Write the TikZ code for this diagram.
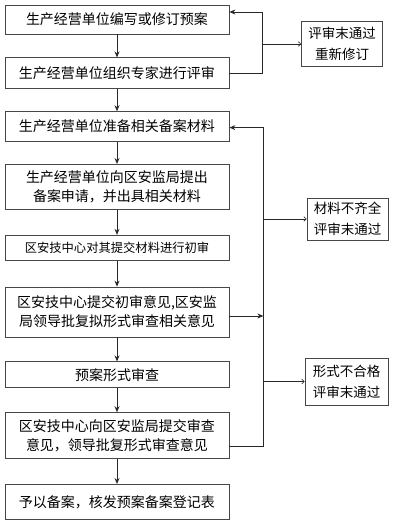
\documentclass[tikz,border=0pt]{standalone}
\usepackage{fontspec}
\setmainfont{Noto Sans CJK SC}
\usetikzlibrary{arrows.meta,positioning,calc}
\definecolor{boxgray}{RGB}{70,70,70}
\definecolor{linegray}{RGB}{40,40,40}

\begin{document}
\begin{tikzpicture}[
  x=1pt, y=1pt,
  stepbox/.style={
    rectangle, draw=boxgray, line width=0.8pt, fill=white,
    minimum width=224pt, inner sep=2pt, align=center,
    font=\fontsize{14}{19}\selectfont
  },
  notebox/.style={
    rectangle, draw=boxgray, line width=0.8pt, fill=white,
    minimum width=81pt, minimum height=45pt, align=center,
    font=\fontsize{13.5}{21}\selectfont
  },
  flow/.style={draw=linegray, line width=0.8pt, -{Stealth[length=6pt,width=5pt]}},
  link/.style={draw=linegray, line width=0.8pt},
  side/.style={draw=linegray, line width=0.6pt, -{To[length=3pt,width=5pt]}},
  node distance=23pt
]
  \useasboundingbox (0,0) rectangle (400,-520);

  % main column
  \node[stepbox, minimum height=29pt] (b1) at (117,-19.5) {生产经营单位编写或修订预案};
  \node[stepbox, minimum height=31pt, below=23pt of b1] (b2) {生产经营单位组织专家进行评审};
  \node[stepbox, minimum height=30pt, below=22pt of b2] (b3) {生产经营单位准备相关备案材料};
  \node[stepbox, minimum height=45pt, below=22pt of b3] (b4) {生产经营单位向区安监局提出\\备案申请，并出具相关材料};
  \node[stepbox, minimum height=25pt, below=25pt of b4, font=\fontsize{12.3}{16}\selectfont] (b5) {区安技中心对其提交材料进行初审};
  \node[stepbox, minimum height=50pt, below=26pt of b5] (b6) {区安技中心提交初审意见,区安监\\局领导批复拟形式审查相关意见};
  \node[stepbox, minimum height=26pt, below=24pt of b6] (b7) {预案形式审查};
  \node[stepbox, minimum height=46pt, below=24pt of b7] (b8) {区安技中心向区安监局提交审查\\意见，领导批复形式审查意见};
  \node[stepbox, minimum height=35pt, below=25pt of b8] (b9) {予以备案，核发预案备案登记表};

  % side notes
  \node[notebox] (r1) at (342,-44) {评审末通过\\重新修订};
  \node[notebox, minimum height=42pt] (r2) at (347.5,-219) {材料不齐全\\评审末通过};
  \node[notebox, minimum width=83pt, minimum height=47pt] (r3) at (346.5,-381.5) {形式不合格\\评审末通过};

  % downward flow
  \foreach \a/\b in {b1/b2,b2/b3,b3/b4,b4/b5,b5/b6,b6/b7,b7/b8,b8/b9}
    \draw[flow] (\a.south) -- (\b.north);

  % review loop
  \draw[flow] (b2.east) -- ++(33,0) coordinate (j1) |- ([yshift=7.5pt]b1.east);
  \draw[side] (j1 |- r1.west) -- (r1.west);

  % filing loop
  \draw[link] ([yshift=-11pt]b8.east) -- ++(34,0) coordinate (j2);
  \draw[flow] (j2) |- ([yshift=-1pt]b3.east);
  \coordinate (b6out) at ([yshift=-4pt]b6.east);
  \draw[flow] (b6out) -- (b6out -| j2);
  \draw[side] (j2 |- r2.west) -- (r2.west);
  \draw[side] (j2 |- r3.west) -- (r3.west);
\end{tikzpicture}
\end{document}
